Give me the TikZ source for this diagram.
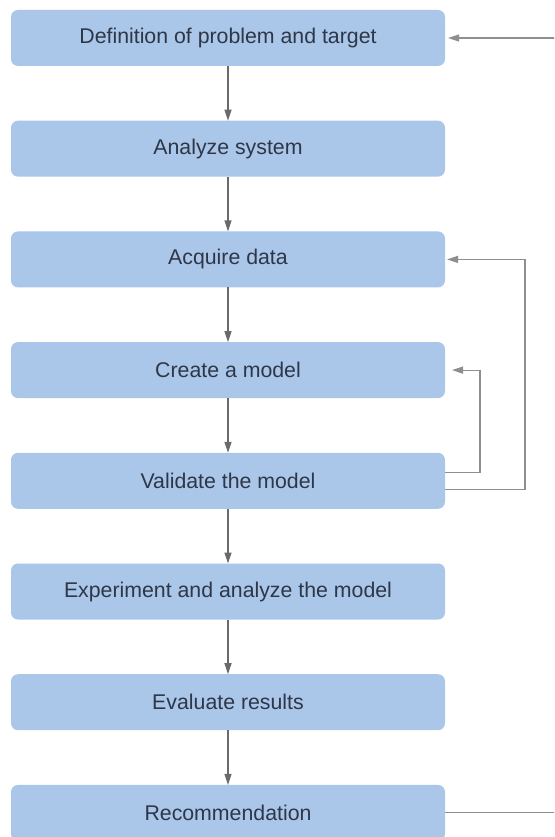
\documentclass[tikz,border=0pt]{standalone}
\usepackage{fontspec}
\setmainfont{Liberation Sans}
\usetikzlibrary{positioning,arrows.meta}

\definecolor{boxblue}{HTML}{AAC6E9}
\definecolor{textgray}{HTML}{2E3747}
\definecolor{arrowgray}{HTML}{6A6A6A}
\definecolor{backgray}{HTML}{8E8E8E}

\begin{document}
\begin{tikzpicture}[x=1pt,y=-1pt,
    stage/.style={rectangle, rounded corners=7pt, fill=boxblue, text=textgray,
      minimum width=434pt, minimum height=56pt, inner sep=0pt, outer sep=0pt,
      font=\fontsize{21.3}{24}\selectfont},
    flow/.style={draw=arrowgray, line width=1.3pt, -{Triangle[length=11pt,width=7pt]}},
    back/.style={draw=backgray, line width=1.1pt, -{Triangle[length=11pt,width=7pt]}},
    node distance=54.7pt]
  \useasboundingbox (0,0) rectangle (554,837);
  \clip (0,0) rectangle (554,837);

  \node[stage] (def) at (228,38) {Definition of problem and target};
  \node[stage, below=of def] (ana) {Analyze system};
  \node[stage, below=of ana] (acq) {Acquire data};
  \node[stage, below=of acq] (cre) {Create a model};
  \node[stage, below=of cre] (val) {Validate the model};
  \node[stage, below=of val] (exp) {Experiment and analyze the model};
  \node[stage, below=of exp] (eva) {Evaluate results};
  \node[stage, below=of eva] (rec) {Recommendation};

  \draw[flow] (def) -- (ana);
  \draw[flow] (ana) -- (acq);
  \draw[flow] (acq) -- (cre);
  \draw[flow] (cre) -- (val);
  \draw[flow] (val) -- (exp);
  \draw[flow] (exp) -- (eva);
  \draw[flow] (eva) -- (rec);

  % feedback
  \draw[back] ([yshift=8pt]val.east) -| ([xshift=35pt]cre.east) -- ([xshift=7pt]cre.east);
  \draw[back] ([yshift=-9pt]val.east) -| ([xshift=80pt]acq.east) -- ([xshift=2pt]acq.east);
  \draw[back] (rec.east) -| ([xshift=130pt]def.east) -- ([xshift=3pt]def.east);
\end{tikzpicture}
\end{document}
